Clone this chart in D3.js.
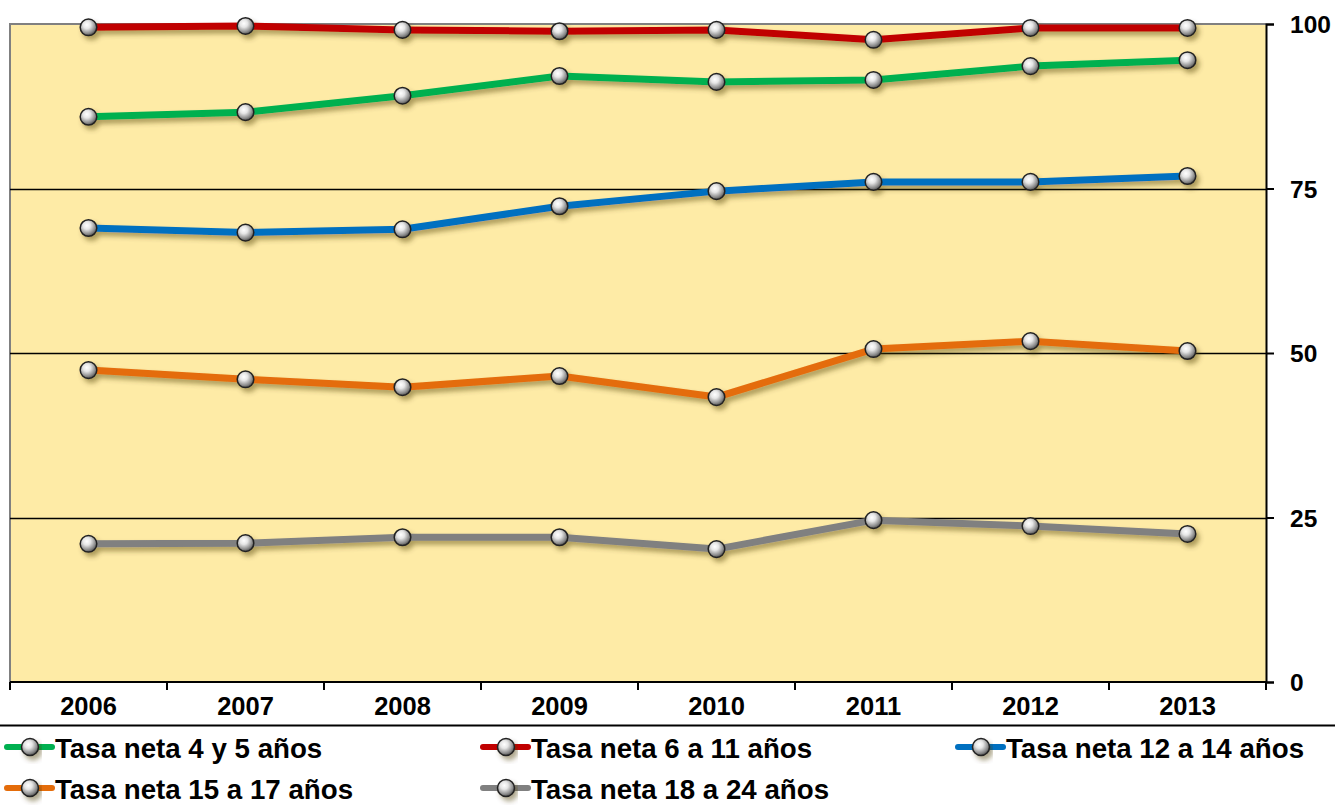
<!DOCTYPE html>
<html><head><meta charset="utf-8">
<script src="https://cdn.jsdelivr.net/npm/d3@7"></script>
<style>body{margin:0;background:#fff}svg{display:block}text{font-family:"Liberation Sans",Arial,sans-serif;font-weight:bold;fill:#000}</style>
</head><body>
<svg id="c" width="1335" height="806"></svg>
<script>
const years = ["2006","2007","2008","2009","2010","2011","2012","2013"];
const yTicks = [0,25,50,75,100];
const seriesNames = ["Tasa neta 4 y 5 años","Tasa neta 6 a 11 años","Tasa neta 12 a 14 años","Tasa neta 15 a 17 años","Tasa neta 18 a 24 años"];
const seriesColors = ["#00B050","#C00000","#0070C0","#E46C0A","#808080"];
const tasa4a5 = [85.9,86.6,89.1,92.1,91.2,91.5,93.6,94.5];
const tasa6a11 = [99.5,99.7,99.1,98.9,99.1,97.6,99.4,99.4];
const tasa12a14 = [69.0,68.3,68.8,72.3,74.6,76.0,76.0,76.9];
const tasa15a17 = [47.4,46.0,44.8,46.5,43.3,50.6,51.8,50.3];
const tasa18a24 = [21.0,21.1,22.0,22.0,20.2,24.6,23.7,22.5];
const seriesValues = [tasa4a5,tasa6a11,tasa12a14,tasa15a17,tasa18a24];

const svg = d3.select("#c");
const L=10, R=1266, T=24, B=682;
const x = d3.scaleBand().domain(years).range([L,R]);
const y = d3.scaleLinear().domain([0,100]).range([B,T]);

const defs = svg.append("defs");
const g = defs.append("radialGradient").attr("id","ball").attr("cx","0.4").attr("cy","0.35").attr("r","0.65");
g.append("stop").attr("offset","0").attr("stop-color","#ffffff");
g.append("stop").attr("offset","0.35").attr("stop-color","#e6e6e6");
g.append("stop").attr("offset","0.8").attr("stop-color","#8a8a8a");
g.append("stop").attr("offset","1").attr("stop-color","#555");
const f = defs.append("filter").attr("id","sh").attr("x","-20%").attr("y","-50%").attr("width","140%").attr("height","200%");
f.append("feDropShadow").attr("dx",3).attr("dy",4).attr("stdDeviation",2.5).attr("flood-color","#4a3a00").attr("flood-opacity",0.45);

// plot background
svg.append("rect").attr("x",L).attr("y",T).attr("width",R-L).attr("height",B-T).attr("fill","#FEEBA6");
// gray frame top/left
svg.append("path").attr("d",`M${L},${B}V${T}H${R}`).attr("fill","none").attr("stroke","#808080").attr("stroke-width",2);
// gridlines
svg.append("g").selectAll("line").data(yTicks.filter(d=>d>0&&d<100)).join("line")
  .attr("x1",L).attr("x2",R).attr("y1",d=>Math.round(y(d))+0.5).attr("y2",d=>Math.round(y(d))+0.5)
  .attr("stroke","#000").attr("stroke-width",1.3);

// right axis
const ay = svg.append("g").attr("transform",`translate(${R},0)`)
  .call(d3.axisRight(y).tickValues(yTicks).tickSize(8).tickPadding(16));
ay.select(".domain").attr("stroke","#000").attr("stroke-width",2);
ay.selectAll(".tick line").attr("stroke","#000").attr("stroke-width",2);
ay.selectAll("text").style("font-size","24.5px").style("font-family","'Liberation Sans',Arial,sans-serif").style("font-weight","bold").attr("fill","#000").attr("dy","0.35em");

// bottom axis
const ax = svg.append("g").attr("transform",`translate(0,${B})`);
ax.append("line").attr("x1",L).attr("x2",R).attr("y1",0).attr("y2",0).attr("stroke","#000").attr("stroke-width",2);
const bounds = years.map(d=>x(d)).concat([R]);
ax.selectAll(".tk").data(bounds).join("line").attr("class","tk")
  .attr("x1",d=>d).attr("x2",d=>d).attr("y1",0).attr("y2",8).attr("stroke","#000").attr("stroke-width",2);
ax.selectAll(".lbl").data(years).join("text").attr("class","lbl")
  .attr("x",d=>x(d)+x.bandwidth()/2).attr("y",33).attr("text-anchor","middle").style("font-size","25.5px").text(d=>d);

// separator line
svg.append("line").attr("x1",0).attr("x2",1335).attr("y1",725.5).attr("y2",725.5).attr("stroke","#000").attr("stroke-width",2);

// series
const line = d3.line().x((d,i)=>x(years[i])+x.bandwidth()/2).y(d=>y(d));
const order = [4,3,2,0,1];
order.forEach(si=>{
  const vals = seriesValues[si];
  const sg = svg.append("g").attr("filter","url(#sh)");
  sg.append("path").datum(vals).attr("d",line).attr("fill","none").attr("stroke",seriesColors[si]).attr("stroke-width",7).attr("stroke-linejoin","round");
  sg.selectAll("circle").data(vals).join("circle")
    .attr("cx",(d,i)=>x(years[i])+x.bandwidth()/2).attr("cy",d=>y(d)).attr("r",8.3)
    .attr("fill","url(#ball)").attr("stroke","#222").attr("stroke-width",1.5);
});

// legend
const legPos = [[7,747],[483,747],[958,747],[7,788],[483,788]];
seriesNames.forEach((n,i)=>{
  const [lx,ly] = legPos[i];
  const lg = svg.append("g");
  lg.append("line").attr("x1",lx).attr("x2",lx+45).attr("y1",ly).attr("y2",ly).attr("stroke",seriesColors[i]).attr("stroke-width",6).attr("stroke-linecap","round");
  lg.append("circle").attr("cx",lx+23).attr("cy",ly).attr("r",8.5).attr("fill","url(#ball)").attr("stroke","#222").attr("stroke-width",1.5).attr("filter","url(#sh)");
  lg.append("text").attr("x",lx+48).attr("y",ly+11).style("font-size","27.7px").text(n);
});
</script>
</body></html>
